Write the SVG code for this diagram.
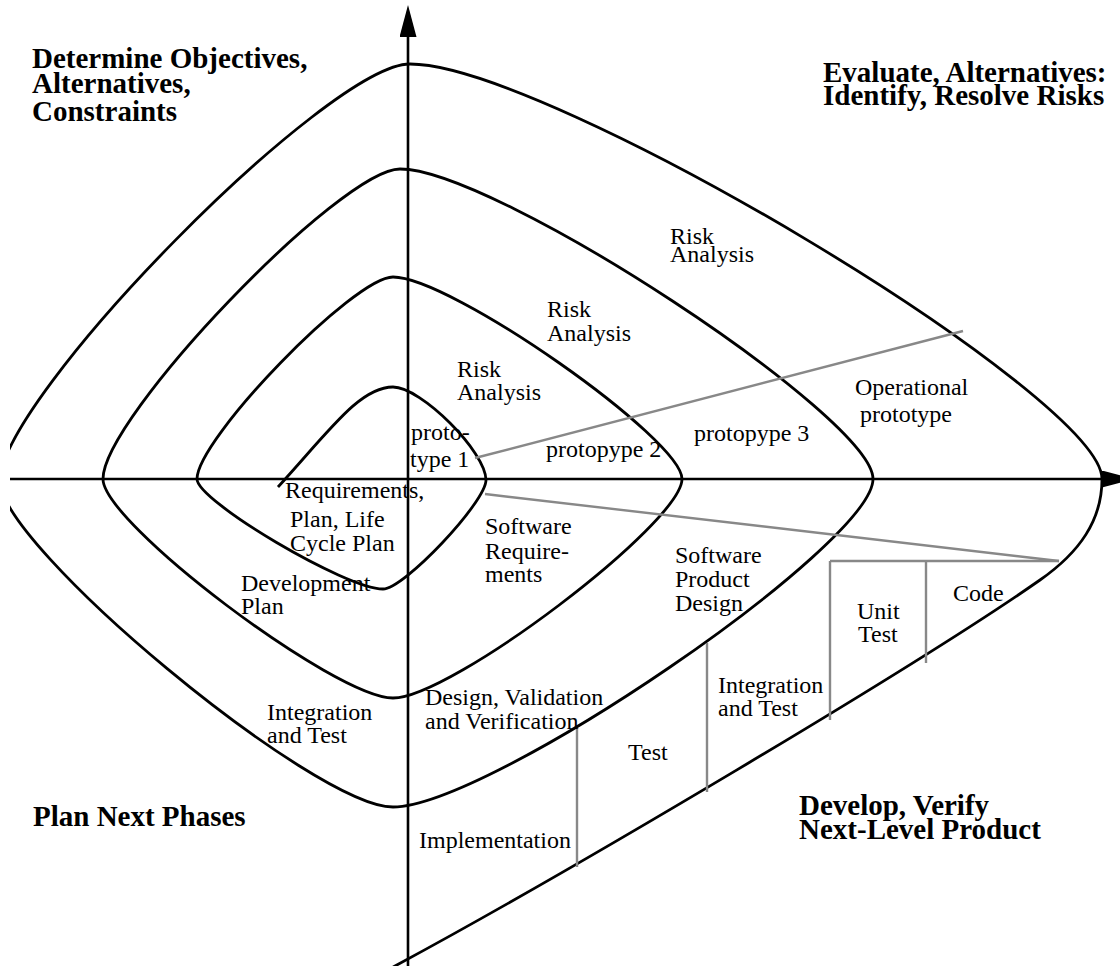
<svg xmlns="http://www.w3.org/2000/svg" width="1120" height="966" viewBox="0 0 1120 966">
<defs>
<style>
.t{font-family:"Liberation Serif","Times New Roman",serif;font-size:24px;fill:#000}
.h{font-family:"Liberation Serif","Times New Roman",serif;font-size:29px;font-weight:bold;fill:#000}
.sp{fill:none;stroke:#000;stroke-width:2.8;stroke-linejoin:round}
.ax{fill:none;stroke:#000;stroke-width:2.6}
.gr{fill:none;stroke:#888;stroke-width:2.4}
</style>
<marker id="arr" viewBox="0 0 32 17" refX="0" refY="8.5" markerWidth="32" markerHeight="17" markerUnits="userSpaceOnUse" orient="auto">
<path d="M0,0 L32,8.5 L0,17 Z" fill="#000"/>
</marker>
<clipPath id="frame"><rect x="10" y="0" width="1110" height="966"/></clipPath>
</defs>
<rect width="1120" height="966" fill="#fff"/>

<g id="connectors">
<g id="axes" clip-path="url(#frame)">
<path class="ax" d="M408,966 L408,37" marker-end="url(#arr)"/>
<path class="ax" d="M10,479 L1102,479" marker-end="url(#arr)"/>
</g>
<g id="spiral" clip-path="url(#frame)">
<path class="sp" d="M278,487 C330,430 360,387 393,387 C421,387 486,452 486,480 C486,502 404,589 383,589 C346,589 197,501 197,479 C197,439 354,277 393,277 C451,277 682,439 682,479 C682,523 451,698 393,698 C335,698 103,523 103,479 C103,417 341,169 400,169 C495,169 873,417 873,479 C873,545 489,807 393,807 C314,807 0,546 0,481 C0,398 328,64 410,64 C548,64 1102,396 1102,479 C1102,520 1080,552 1040,580 C917,666 571,871 395,966 L370,980"/>
</g>
<g id="dividers">
<path class="gr" d="M475,458 L963,331"/>
<path class="gr" d="M485,494 L1059,561"/>
<path class="gr" d="M830,561 L1059,561"/>
<path class="gr" d="M830,561 L830,720"/>
<path class="gr" d="M926,561 L926,663"/>
<path class="gr" d="M707,643 L707,792"/>
<path class="gr" d="M577,728 L577,867"/>
</g>
</g>

<g id="quadrant-titles">
<g id="title-determine"><text class="h" x="32" y="68">Determine Objectives,</text><text class="h" x="32" y="93">Alternatives,</text><text class="h" x="32" y="121">Constraints</text></g>
<g id="title-evaluate"><text class="h" x="823" y="82">Evaluate, Alternatives:</text><text class="h" x="823" y="105">Identify, Resolve Risks</text></g>
<g id="title-develop"><text class="h" x="799" y="815">Develop, Verify</text><text class="h" x="799" y="839">Next-Level Product</text></g>
<g id="title-plan"><text class="h" x="33" y="826">Plan Next Phases</text></g>
</g>

<g id="labels">
<g id="risk-4"><text class="t" x="670" y="244">Risk</text><text class="t" x="670" y="262">Analysis</text></g>
<g id="risk-3"><text class="t" x="547" y="317">Risk</text><text class="t" x="547" y="341">Analysis</text></g>
<g id="risk-2"><text class="t" x="457" y="377">Risk</text><text class="t" x="457" y="400">Analysis</text></g>
<g id="proto-1"><text class="t" x="411" y="440">proto-</text><text class="t" x="410" y="467">type 1</text></g>
<g id="proto-2"><text class="t" x="546" y="457">protopype 2</text></g>
<g id="proto-3"><text class="t" x="694" y="441">protopype 3</text></g>
<g id="proto-op"><text class="t" x="855" y="395">Operational</text><text class="t" x="860" y="422">prototype</text></g>
<g id="req-plan"><text class="t" x="285" y="498">Requirements,</text><text class="t" x="290" y="527">Plan, Life</text><text class="t" x="290" y="551">Cycle Plan</text></g>
<g id="sw-req"><text class="t" x="485" y="534">Software</text><text class="t" x="485" y="559">Require-</text><text class="t" x="485" y="582">ments</text></g>
<g id="dev-plan"><text class="t" x="241" y="591">Development</text><text class="t" x="241" y="614">Plan</text></g>
<g id="sw-design"><text class="t" x="675" y="563">Software</text><text class="t" x="675" y="587">Product</text><text class="t" x="675" y="611">Design</text></g>
<g id="unit-test"><text class="t" x="857" y="619">Unit</text><text class="t" x="858" y="642">Test</text></g>
<g id="code"><text class="t" x="953" y="601">Code</text></g>
<g id="int-test-plan"><text class="t" x="267" y="720">Integration</text><text class="t" x="267" y="743">and Test</text></g>
<g id="dvv"><text class="t" x="425" y="705">Design, Validation</text><text class="t" x="425" y="729">and Verification</text></g>
<g id="int-test"><text class="t" x="718" y="693">Integration</text><text class="t" x="718" y="716">and Test</text></g>
<g id="test"><text class="t" x="628" y="760">Test</text></g>
<g id="impl"><text class="t" x="419" y="848">Implementation</text></g>
</g>
</svg>
